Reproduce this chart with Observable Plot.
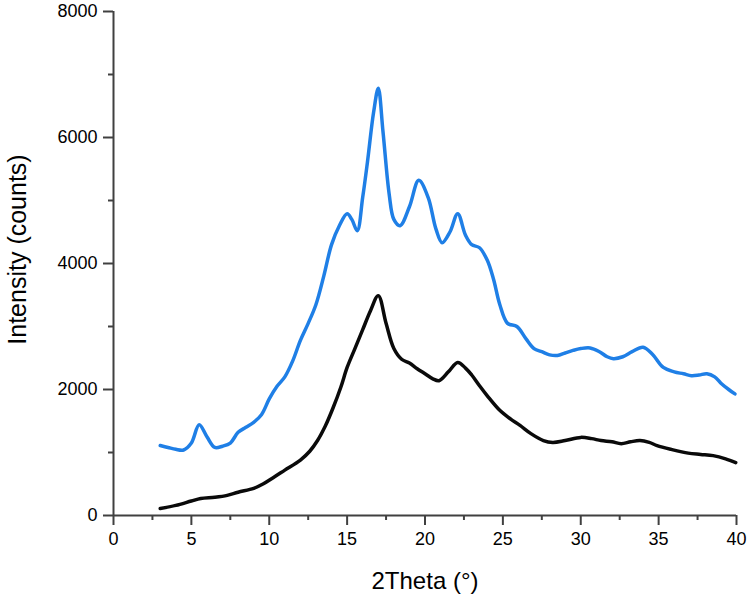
<!DOCTYPE html>
<html>
<head>
<meta charset="utf-8">
<script src="https://cdn.jsdelivr.net/npm/d3@7"></script>
<script src="https://cdn.jsdelivr.net/npm/@observablehq/plot@0.6"></script>
<style>
  html, body { margin: 0; padding: 0; background: #fff; }
</style>
</head>
<body>
<div id="chart"></div>
<script>
// 2Theta positions (degrees) and intensities (counts)
const blueTheta = [3.0, 3.5, 4.0, 4.5, 5.0, 5.5, 6.0, 6.5, 7.0, 7.5, 8.0, 8.5, 9.0, 9.5, 10.0, 10.5, 11.0, 11.5, 12.0, 12.5, 13.0, 13.5, 14.0, 14.5, 15.0, 15.3, 15.65, 16.0, 16.3, 16.7, 17.0, 17.3, 17.7, 18.0, 18.4, 19.0, 19.6, 20.2, 20.7, 21.1, 21.6, 22.1, 22.6, 23.0, 23.5, 24.0, 24.4, 24.8, 25.3, 25.9, 26.5, 27.0, 27.5, 28.0, 28.5, 29.0, 29.5, 30.0, 30.6, 31.2, 31.7, 32.1, 32.7, 33.3, 34.0, 34.6, 35.3, 36.0, 36.6, 37.1, 37.6, 38.1, 38.6, 39.0, 39.5, 39.9];
const blueCounts = [1110, 1080, 1050, 1040, 1150, 1440, 1250, 1080, 1100, 1150, 1320, 1400, 1480, 1600, 1850, 2050, 2200, 2450, 2780, 3050, 3350, 3800, 4300, 4600, 4790, 4700, 4520, 5050, 5600, 6400, 6780, 6100, 5100, 4700, 4600, 4900, 5320, 5050, 4550, 4330, 4500, 4790, 4450, 4300, 4250, 4050, 3750, 3350, 3050, 3000, 2800, 2650, 2600, 2550, 2540, 2580, 2620, 2650, 2660, 2600, 2520, 2490, 2520, 2600, 2670, 2560, 2350, 2280, 2250, 2220, 2230, 2250, 2200, 2100, 2000, 1930];

const blackTheta = [3.0, 4.0, 5.0, 5.6, 6.5, 7.3, 8.0, 9.0, 9.6, 10.25, 11.0, 12.0, 12.6, 13.1, 13.6, 14.1, 14.6, 15.0, 15.5, 16.0, 16.5, 17.0, 17.5, 18.0, 18.5, 19.0, 19.5, 20.0, 20.5, 20.9, 21.5, 22.1, 22.6, 23.0, 23.5, 24.0, 24.8, 25.5, 26.1, 26.8, 27.6, 28.2, 29.0, 30.0, 30.7, 31.3, 32.0, 32.6, 33.2, 33.8, 34.4, 34.9, 35.8, 36.9, 37.7, 38.5, 39.3, 39.95];
const blackCounts = [110, 160, 230, 270, 290, 320, 370, 430, 500, 600, 720, 880, 1020, 1190, 1420, 1710, 2040, 2350, 2650, 2950, 3250, 3490, 3050, 2650, 2480, 2420, 2330, 2250, 2170, 2140, 2280, 2430, 2340, 2230, 2060, 1900, 1670, 1530, 1430, 1300, 1190, 1160, 1190, 1240, 1220, 1190, 1170, 1140, 1170, 1190, 1160, 1110, 1050, 990, 970, 950, 900, 840];

const xTicks = [0, 5, 10, 15, 20, 25, 30, 35, 40];
const xMinor = [2.5, 7.5, 12.5, 17.5, 22.5, 27.5, 32.5, 37.5];
const yTicks = [0, 2000, 4000, 6000, 8000];
const yMinor = [1000, 3000, 5000, 7000];
const xLabel = "2Theta (°)";
const yLabel = "Intensity (counts)";

const blue = blueTheta.map((t, i) => ({theta: t, counts: blueCounts[i]}));
const black = blackTheta.map((t, i) => ({theta: t, counts: blackCounts[i]}));

const axisColor = "#404040";

const chart = Plot.plot({
  width: 750,
  height: 604,
  marginLeft: 113,
  marginRight: 14,
  marginTop: 11,
  marginBottom: 89,
  style: {fontFamily: "Arial, 'Liberation Sans', sans-serif", fontSize: "18px", color: "#000", background: "#fff"},
  x: {domain: [0, 40]},
  y: {domain: [0, 8000]},
  marks: [
    Plot.axisX({ticks: xMinor, tickSize: 5, tickFormat: () => "", stroke: axisColor, strokeWidth: 2, label: null}),
    Plot.axisY({ticks: yMinor, tickSize: 5, tickFormat: () => "", stroke: axisColor, strokeWidth: 2, label: null}),
    Plot.axisX({ticks: xTicks, tickSize: 10, tickPadding: 7, tickFormat: "d", stroke: axisColor, strokeWidth: 2, fill: "#000", fontSize: 18, label: null}),
    Plot.axisY({ticks: yTicks, tickSize: 10, tickPadding: 6, tickFormat: "d", stroke: axisColor, strokeWidth: 2, fill: "#000", fontSize: 18, label: null}),
    Plot.ruleY([0], {stroke: axisColor, strokeWidth: 2}),
    Plot.ruleX([0], {stroke: axisColor, strokeWidth: 2}),
    Plot.lineY(blue, {x: "theta", y: "counts", stroke: "#1f7fe6", strokeWidth: 3.5, curve: "catmull-rom"}),
    Plot.lineY(black, {x: "theta", y: "counts", stroke: "#0a0a0a", strokeWidth: 3.5, curve: "catmull-rom"}),
    Plot.text([xLabel], {frameAnchor: "bottom", dy: 73, fontSize: 24, fill: "#000"}),
    Plot.text([yLabel], {frameAnchor: "left", textAnchor: "middle", dx: -96, dy: -14, rotate: -90, fontSize: 25, fill: "#000"})
  ]
});
document.getElementById("chart").appendChild(chart);
</script>
</body>
</html>
